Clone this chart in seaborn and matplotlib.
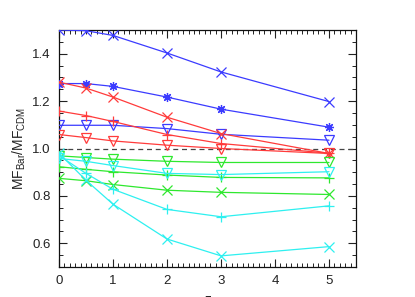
import matplotlib
matplotlib.use("Agg")
import matplotlib.pyplot as plt
import seaborn as sns
import numpy as np
from matplotlib.ticker import MultipleLocator

sns.set_style("ticks")
plt.rcParams['font.family'] = ['Liberation Sans', 'DejaVu Sans']

z = [0, 0.5, 1, 2, 3, 5]

blue_x = [1.500, 1.497, 1.477, 1.403, 1.323, 1.198]
blue_ast = [1.274, 1.274, 1.262, 1.217, 1.166, 1.090]
blue_tri = [1.098, 1.098, 1.098, 1.084, 1.060, 1.035]
red_x = [1.280, 1.255, 1.217, 1.132, 1.063, 0.979]
red_plus = [1.158, 1.139, 1.114, 1.059, 1.021, 0.980]
red_tri = [1.059, 1.046, 1.032, 1.014, 1.000, 0.979]
green_tri = [0.969, 0.962, 0.955, 0.946, 0.941, 0.941]
green_plus = [0.923, 0.912, 0.902, 0.888, 0.878, 0.876]
green_x = [0.874, 0.864, 0.848, 0.824, 0.815, 0.806]
cyan_tri = [0.958, 0.946, 0.928, 0.895, 0.890, 0.902]
cyan_plus = [0.970, 0.895, 0.828, 0.743, 0.712, 0.758]
cyan_x = [0.980, 0.866, 0.765, 0.618, 0.547, 0.586]

series = [
    (blue_x, '#3b3bff', 'x'),
    (blue_ast, '#3b3bff', (8, 2, 0)),
    (blue_tri, '#3b3bff', 'v'),
    (red_x, '#ff3b3b', 'x'),
    (red_plus, '#ff3b3b', '+'),
    (red_tri, '#ff3b3b', 'v'),
    (green_tri, '#2ee82e', 'v'),
    (green_plus, '#2ee82e', '+'),
    (green_x, '#2ee82e', 'x'),
    (cyan_tri, '#2ef0f0', 'v'),
    (cyan_plus, '#2ef0f0', '+'),
    (cyan_x, '#2ef0f0', 'x'),
]

fig = plt.figure(figsize=(4.15, 2.97), dpi=100)
ax = fig.add_axes([59/415, 1-267/297, (356-59)/415, (267-30)/297])

ax.axhline(1.0, color='#444444', lw=0.9, ls=(0, (4, 3)), zorder=1)

for vals, col, mk in series:
    sns.lineplot(x=z, y=vals, ax=ax, color=col, lw=0.9, marker=mk,
                 markersize=6.5, markerfacecolor='none', markeredgecolor=col,
                 markeredgewidth=0.9, zorder=3)

ax.set_xlim(0, 5.5)
ax.set_ylim(0.5, 1.5)
ax.xaxis.set_major_locator(MultipleLocator(1))
ax.xaxis.set_minor_locator(MultipleLocator(0.1))
ax.yaxis.set_major_locator(MultipleLocator(0.2))
ax.yaxis.set_minor_locator(MultipleLocator(0.05))
ax.set_yticks([0.6, 0.8, 1.0, 1.2, 1.4])
ax.tick_params(which='both', direction='in', top=True, right=True,
               colors='#222222', labelsize=9.5, pad=6)
ax.tick_params(which='major', length=6, width=0.8)
ax.tick_params(which='minor', length=3, width=0.7)
for s in ax.spines.values():
    s.set_color('#111111')
    s.set_linewidth(0.9)

ax.set_xlabel('z', fontsize=10, color='#222222', labelpad=4)
ax.set_ylabel(r'MF$_{\mathregular{Bar}}$/MF$_{\mathregular{CDM}}$', fontsize=10, color='#222222', labelpad=3)

fig.savefig('out.png', dpi=100)
